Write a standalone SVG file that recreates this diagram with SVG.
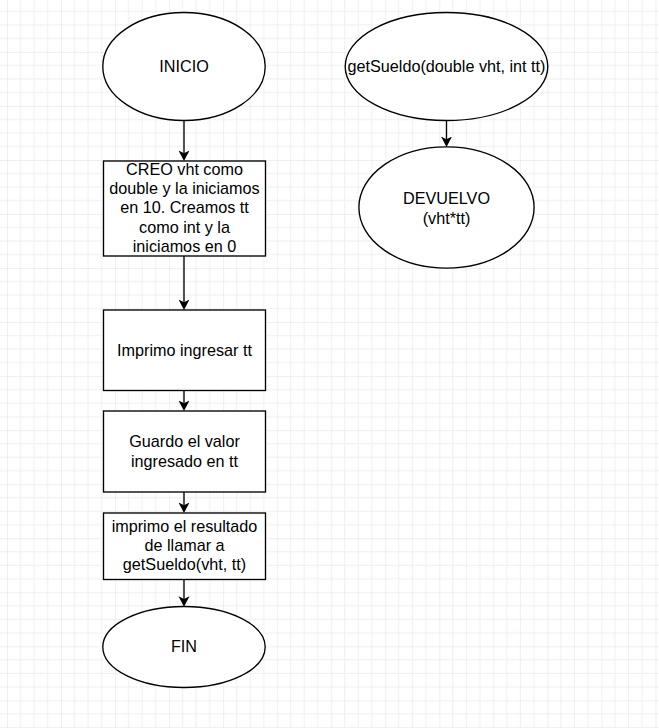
<svg xmlns="http://www.w3.org/2000/svg" width="659" height="728" viewBox="0 0 659 728">
<style>
.shape{fill:#ffffff;stroke:#000000;stroke-width:1.35}
.lbl{font-family:"Liberation Sans",Arial,sans-serif;font-size:16.2px;fill:#000000;text-anchor:middle}
.edge{fill:none;stroke:#000000;stroke-width:1.35}
</style>
<defs>
<pattern id="grid" patternUnits="userSpaceOnUse" x="7" y="51.9" width="54.04" height="54.04">
<g stroke="#efefef" stroke-width="1">
<line x1="13.51" y1="0" x2="13.51" y2="54.04"/>
<line x1="27.02" y1="0" x2="27.02" y2="54.04"/>
<line x1="40.53" y1="0" x2="40.53" y2="54.04"/>
<line x1="0" y1="13.51" x2="54.04" y2="13.51"/>
<line x1="0" y1="27.02" x2="54.04" y2="27.02"/>
<line x1="0" y1="40.53" x2="54.04" y2="40.53"/>
</g>
<g stroke="#dfdfdf" stroke-width="1">
<line x1="0" y1="0" x2="0" y2="54.04"/>
<line x1="0" y1="0" x2="54.04" y2="0"/>
</g>
</pattern>
<marker id="arr" markerUnits="userSpaceOnUse" markerWidth="12" markerHeight="12" refX="2.7" refY="5.5" orient="auto">
<path d="M0,0 L10.5,5.5 L0,11 L2.7,5.5 Z" fill="#000000"/>
</marker>
</defs>
<rect x="0" y="0" width="659" height="728" fill="#ffffff"/>
<rect x="0" y="0" width="659" height="728" fill="url(#grid)"/>

<g id="connectors">
<line class="edge" x1="184" y1="120.5" x2="184" y2="153.2" marker-end="url(#arr)"/>
<line class="edge" x1="184" y1="256" x2="184" y2="302.2" marker-end="url(#arr)"/>
<line class="edge" x1="184" y1="390.5" x2="184" y2="403.2" marker-end="url(#arr)"/>
<line class="edge" x1="184" y1="492" x2="184" y2="505.2" marker-end="url(#arr)"/>
<line class="edge" x1="184" y1="579.5" x2="184" y2="598.9" marker-end="url(#arr)"/>
<line class="edge" x1="446.5" y1="120.5" x2="446.5" y2="139.2" marker-end="url(#arr)"/>
</g>

<g id="inicio">
<ellipse class="shape" cx="184" cy="66.5" rx="81.2" ry="54"/>
<text class="lbl" x="184" y="72">INICIO</text>
</g>

<g id="crear">
<rect class="shape" x="103.5" y="161" width="162" height="95"/>
<text class="lbl" x="184.5" y="175">CREO vht como</text>
<text class="lbl" x="184.5" y="194.2">double y la iniciamos</text>
<text class="lbl" x="184.5" y="213.4">en 10. Creamos tt</text>
<text class="lbl" x="184.5" y="232.6">como int y la</text>
<text class="lbl" x="184.5" y="251.8">iniciamos en 0</text>
</g>

<g id="imprimo">
<rect class="shape" x="103.5" y="310" width="162" height="80.5"/>
<text class="lbl" x="184.5" y="355.7">Imprimo ingresar tt</text>
</g>

<g id="guardo">
<rect class="shape" x="103.5" y="411" width="162" height="81"/>
<text class="lbl" x="184.5" y="447.3">Guardo el valor</text>
<text class="lbl" x="184.5" y="466.6">ingresado en tt</text>
</g>

<g id="resultado">
<rect class="shape" x="103.5" y="513" width="162" height="66.5"/>
<text class="lbl" x="184.5" y="531.6">imprimo el resultado</text>
<text class="lbl" x="184.5" y="550.8">de llamar a</text>
<text class="lbl" x="184.5" y="570">getSueldo(vht, tt)</text>
</g>

<g id="fin">
<ellipse class="shape" cx="184" cy="647" rx="81.2" ry="40.5"/>
<text class="lbl" x="184" y="652.4">FIN</text>
</g>

<g id="getsueldo">
<ellipse class="shape" cx="446.5" cy="66.5" rx="101.3" ry="54"/>
<text class="lbl" x="446.5" y="72.3">getSueldo(double vht, int tt)</text>
</g>

<g id="devuelvo">
<ellipse class="shape" cx="446.5" cy="207.5" rx="87.6" ry="60.6"/>
<text class="lbl" x="446.5" y="204.2">DEVUELVO</text>
<text class="lbl" x="446.5" y="223.6">(vht*tt)</text>
</g>
</svg>
